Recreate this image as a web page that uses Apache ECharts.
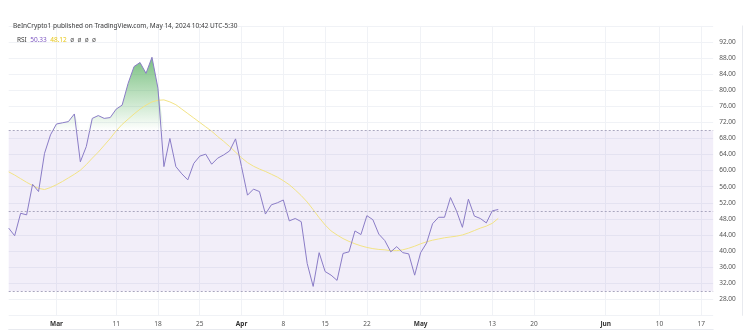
<!DOCTYPE html>
<html><head><meta charset="utf-8">
<script src="https://cdn.jsdelivr.net/npm/echarts@6/dist/echarts.min.js"></script>
<style>html,body{margin:0;padding:0;background:#fff}#c{width:751px;height:334px}</style>
</head><body><div id="c"></div>
<script>
// ---- data ----
const startDate = '2024-02-22';
const dayCount = 119; // Feb 22 .. Jun 19, 2024 (daily)
const tickDates = ['2024-03-01','2024-03-11','2024-03-18','2024-03-25','2024-04-01','2024-04-08','2024-04-15','2024-04-22','2024-05-01','2024-05-13','2024-05-20','2024-06-01','2024-06-10','2024-06-17'];
const tickLabels = ['Mar','11','18','25','Apr','8','15','22','May','13','20','Jun','10','17'];
const monthLabels = ['Mar','Apr','May','Jun'];
const rsi = [45.7,43.8,49.4,49.0,56.6,54.8,64.3,68.9,71.6,71.9,
  72.2,74.1,62.2,66.0,73.0,73.7,73.0,73.2,75.3,76.3,
  81.7,85.9,86.9,84.2,88.2,80.5,61.0,68.0,61.0,59.2,
  57.7,61.8,63.6,64.1,61.6,63.1,63.9,64.9,67.9,61.0,
  53.9,55.4,54.8,49.2,51.5,52.0,52.7,47.5,48.1,47.3,
  36.9,31.2,39.6,34.9,34.0,32.7,39.4,39.8,45.0,44.1,
  48.8,47.8,44.2,42.6,39.8,41.1,39.6,39.3,34.0,39.6,
  42.0,46.8,48.4,48.4,53.3,50.0,45.9,52.9,48.7,48.1,
  47.0,50.0,50.33];
const rsiMA = [59.7,58.9,58.0,57.1,56.3,55.6,55.3,55.8,56.5,57.3,
  58.2,59.1,60.1,61.5,63.1,64.6,66.3,68.0,69.9,71.5,
  72.8,74.1,75.3,76.3,77.1,77.5,77.6,77.1,76.4,75.3,
  74.2,73.1,72.0,70.9,69.8,68.5,67.3,66.0,64.6,63.2,
  62.0,61.1,60.4,59.8,59.1,58.4,57.5,56.5,55.2,53.8,
  52.2,50.3,48.3,46.5,45.0,44.0,43.1,42.4,41.8,41.3,
  40.9,40.6,40.4,40.3,40.1,40.1,40.3,40.7,41.2,41.8,
  42.3,42.7,43.0,43.3,43.5,43.7,44.0,44.5,45.1,45.7,
  46.2,46.9,48.12];
const overbought = 70, middle = 50, oversold = 30;
const yMin = 24, yMax = 96, yStep = 4;
const headerText = 'BeInCrypto1 published on TradingView.com, May 14, 2024 10:42 UTC-5:30';

// ---- build ----
const categories = [];
{
  const d0 = new Date(startDate + 'T00:00:00Z');
  for (let i = 0; i < dayCount; i++) {
    const d = new Date(d0.getTime() + i * 86400000);
    categories.push(d.toISOString().slice(0, 10));
  }
}
const tickMap = {};
tickDates.forEach((d, i) => { tickMap[d] = tickLabels[i]; });
const isTick = (idx, val) => tickMap[val] !== undefined;
const FONT = 'Noto Sans';

const obBase = rsi.map(() => overbought);
const obFill = rsi.map(v => Math.max(v - overbought, 0));

const chart = echarts.init(document.getElementById('c'), null, {renderer: 'canvas'});
chart.setOption({
  animation: false,
  backgroundColor: '#ffffff',
  title: [
    {text: headerText, left: 8, top: 18,
     textStyle: {fontFamily: FONT, fontSize: 6.5, fontWeight: 'normal', color: '#3a3a3a'}},
    {text: 'RSI  {p|' + rsi[rsi.length - 1].toFixed(2) + '}  {y|' + rsiMA[rsiMA.length - 1].toFixed(2) + '}  {g|ø  ø  ø  ø}',
     left: 12, top: 32,
     textStyle: {fontFamily: FONT, fontSize: 6.5, fontWeight: 'normal', color: '#3a3a3a',
       rich: {p: {color: '#7E57C2', fontSize: 6.5, fontFamily: FONT},
              y: {color: '#E8C81A', fontSize: 6.5, fontFamily: FONT},
              g: {color: '#555', fontSize: 6.5, fontFamily: FONT}}}}
  ],
  grid: {left: 8.7, right: 37.84, top: 25.92, bottom: 18.64, containLabel: false},
  xAxis: [
    {type: 'category', data: categories, boundaryGap: false,
     axisLine: {show: false}, axisTick: {show: false},
     axisLabel: {interval: isTick, margin: 5, fontFamily: FONT, fontSize: 6.5, color: '#555',
       formatter: v => {
         const s = tickMap[v] || '';
         return monthLabels.includes(s) ? '{m|' + s + '}' : s;
       },
       rich: {m: {fontWeight: 'bold', fontFamily: FONT, fontSize: 6.5, color: '#333'}}},
     splitLine: {show: true, interval: isTick, lineStyle: {color: '#f0f2f6', width: 1}}},
    {type: 'category', data: categories, boundaryGap: false, position: 'bottom', offset: 14,
     axisLine: {show: true, lineStyle: {color: '#e8eaef'}}, axisTick: {show: false},
     axisLabel: {show: false}, splitLine: {show: false}}
  ],
  yAxis: [
    {type: 'value', position: 'right', min: yMin, max: yMax, interval: yStep,
     axisLine: {show: false}, axisTick: {show: false},
     axisLabel: {showMinLabel: false, showMaxLabel: false, margin: 6,
       fontFamily: FONT, fontSize: 6.5, color: '#555', formatter: v => v.toFixed(2)},
     splitLine: {show: true, lineStyle: {color: '#f0f2f6', width: 1}}},
    {type: 'value', position: 'right', offset: 29, min: yMin, max: yMax,
     axisLine: {show: true, lineStyle: {color: '#e8eaef'}}, axisTick: {show: false},
     axisLabel: {show: false}, splitLine: {show: false}}
  ],
  series: [
    {name: 'obBase', type: 'line', data: obBase, stack: 'ob', symbol: 'none', silent: true,
     lineStyle: {opacity: 0, width: 0}, z: 2},
    {name: 'obFill', type: 'line', data: obFill, stack: 'ob', symbol: 'none', silent: true,
     lineStyle: {opacity: 0, width: 0}, z: 2,
     areaStyle: {opacity: 1, color: new echarts.graphic.LinearGradient(0, 0, 0, 1, [
       {offset: 0, color: 'rgba(76,170,88,0.75)'},
       {offset: 1, color: 'rgba(76,175,80,0.0)'}])}},
    {name: 'RSI-based MA', type: 'line', data: rsiMA, symbol: 'none', smooth: false,
     lineStyle: {color: '#F2E385', width: 1}, z: 3},
    {name: 'RSI', type: 'line', data: rsi, symbol: 'none',
     lineStyle: {color: '#8A7CC6', width: 1}, z: 4,
     markArea: {silent: true, itemStyle: {color: 'rgba(126,87,194,0.1)'},
       data: [[{yAxis: oversold}, {yAxis: overbought}]]},
     markLine: {silent: true, symbol: 'none', label: {show: false},
       lineStyle: {color: '#aaa7bf', type: [2, 2], width: 1},
       data: [{yAxis: overbought}, {yAxis: middle}, {yAxis: oversold}]}}
  ]
});
</script>
</body></html>
